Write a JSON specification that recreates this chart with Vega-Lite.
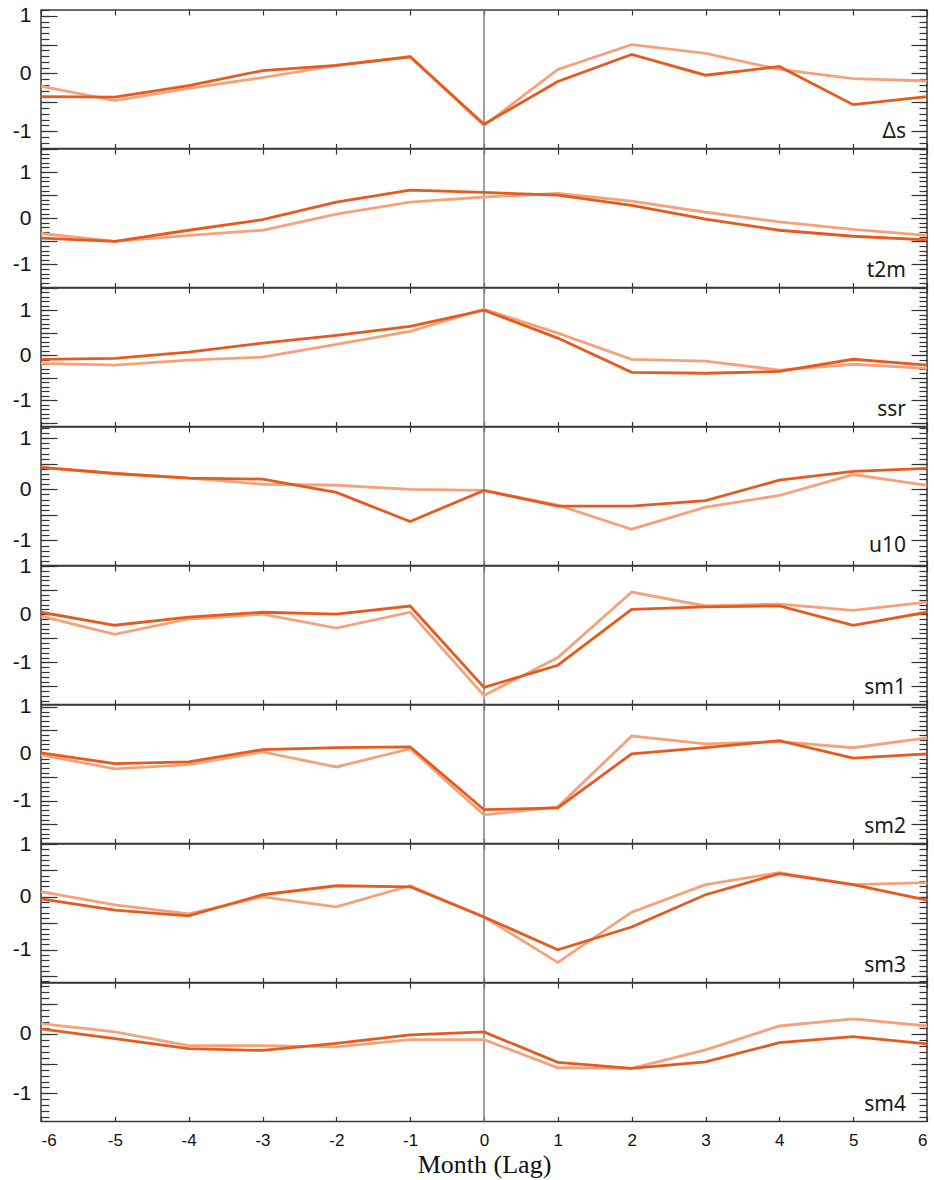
{
"$schema": "https://vega.github.io/schema/vega-lite/v6.json",
"padding": {"left": 11, "top": 4, "right": 5, "bottom": 5},
"bounds": "flush",
"spacing": 0,
"background": "white",
"config": {
  "view": {"stroke": "#3a3a3a", "strokeWidth": 1.5},
  "axis": {"grid": false, "domain": false, "tickColor": "#333333", "tickWidth": 1.2, "labelFont": "Liberation Sans", "labelFontSize": 21, "labelColor": "#111111", "title": null},
  "line": {"strokeWidth": 2.8}
},
"data": {"values": [
{"panel":"Δs","lag":-6,"dark":-0.40,"light":-0.22},{"panel":"Δs","lag":-5,"dark":-0.41,"light":-0.47},{"panel":"Δs","lag":-4,"dark":-0.21,"light":-0.26},{"panel":"Δs","lag":-3,"dark":0.05,"light":-0.07},{"panel":"Δs","lag":-2,"dark":0.14,"light":0.14},{"panel":"Δs","lag":-1,"dark":0.29,"light":0.29},{"panel":"Δs","lag":0,"dark":-0.88,"light":-0.90},{"panel":"Δs","lag":1,"dark":-0.14,"light":0.07},{"panel":"Δs","lag":2,"dark":0.33,"light":0.50},{"panel":"Δs","lag":3,"dark":-0.03,"light":0.35},{"panel":"Δs","lag":4,"dark":0.12,"light":0.07},{"panel":"Δs","lag":5,"dark":-0.54,"light":-0.09},{"panel":"Δs","lag":6,"dark":-0.40,"light":-0.13},
{"panel":"t2m","lag":-6,"dark":-0.43,"light":-0.33},{"panel":"t2m","lag":-5,"dark":-0.50,"light":-0.50},{"panel":"t2m","lag":-4,"dark":-0.26,"light":-0.37},{"panel":"t2m","lag":-3,"dark":-0.03,"light":-0.26},{"panel":"t2m","lag":-2,"dark":0.35,"light":0.09},{"panel":"t2m","lag":-1,"dark":0.61,"light":0.35},{"panel":"t2m","lag":0,"dark":0.56,"light":0.46},{"panel":"t2m","lag":1,"dark":0.50,"light":0.54},{"panel":"t2m","lag":2,"dark":0.28,"light":0.37},{"panel":"t2m","lag":3,"dark":-0.02,"light":0.13},{"panel":"t2m","lag":4,"dark":-0.26,"light":-0.08},{"panel":"t2m","lag":5,"dark":-0.39,"light":-0.24},{"panel":"t2m","lag":6,"dark":-0.47,"light":-0.37},
{"panel":"ssr","lag":-6,"dark":-0.09,"light":-0.18},{"panel":"ssr","lag":-5,"dark":-0.07,"light":-0.22},{"panel":"ssr","lag":-4,"dark":0.07,"light":-0.11},{"panel":"ssr","lag":-3,"dark":0.27,"light":-0.04},{"panel":"ssr","lag":-2,"dark":0.44,"light":0.24},{"panel":"ssr","lag":-1,"dark":0.64,"light":0.53},{"panel":"ssr","lag":0,"dark":1.00,"light":1.02},{"panel":"ssr","lag":1,"dark":0.38,"light":0.49},{"panel":"ssr","lag":2,"dark":-0.38,"light":-0.09},{"panel":"ssr","lag":3,"dark":-0.40,"light":-0.13},{"panel":"ssr","lag":4,"dark":-0.36,"light":-0.33},{"panel":"ssr","lag":5,"dark":-0.09,"light":-0.20},{"panel":"ssr","lag":6,"dark":-0.22,"light":-0.29},
{"panel":"u10","lag":-6,"dark":0.43,"light":0.43},{"panel":"u10","lag":-5,"dark":0.31,"light":0.31},{"panel":"u10","lag":-4,"dark":0.22,"light":0.22},{"panel":"u10","lag":-3,"dark":0.20,"light":0.10},{"panel":"u10","lag":-2,"dark":-0.06,"light":0.08},{"panel":"u10","lag":-1,"dark":-0.63,"light":0.00},{"panel":"u10","lag":0,"dark":-0.02,"light":-0.02},{"panel":"u10","lag":1,"dark":-0.33,"light":-0.31},{"panel":"u10","lag":2,"dark":-0.33,"light":-0.78},{"panel":"u10","lag":3,"dark":-0.22,"light":-0.35},{"panel":"u10","lag":4,"dark":0.18,"light":-0.12},{"panel":"u10","lag":5,"dark":0.35,"light":0.29},{"panel":"u10","lag":6,"dark":0.41,"light":0.08},
{"panel":"sm1","lag":-6,"dark":0.04,"light":-0.04},{"panel":"sm1","lag":-5,"dark":-0.23,"light":-0.42},{"panel":"sm1","lag":-4,"dark":-0.06,"light":-0.10},{"panel":"sm1","lag":-3,"dark":0.04,"light":0.00},{"panel":"sm1","lag":-2,"dark":0.00,"light":-0.29},{"panel":"sm1","lag":-1,"dark":0.17,"light":0.04},{"panel":"sm1","lag":0,"dark":-1.52,"light":-1.69},{"panel":"sm1","lag":1,"dark":-1.06,"light":-0.90},{"panel":"sm1","lag":2,"dark":0.10,"light":0.46},{"panel":"sm1","lag":3,"dark":0.15,"light":0.17},{"panel":"sm1","lag":4,"dark":0.17,"light":0.21},{"panel":"sm1","lag":5,"dark":-0.23,"light":0.08},{"panel":"sm1","lag":6,"dark":0.04,"light":0.25},
{"panel":"sm2","lag":-6,"dark":0.02,"light":-0.02},{"panel":"sm2","lag":-5,"dark":-0.21,"light":-0.32},{"panel":"sm2","lag":-4,"dark":-0.17,"light":-0.23},{"panel":"sm2","lag":-3,"dark":0.09,"light":0.04},{"panel":"sm2","lag":-2,"dark":0.13,"light":-0.28},{"panel":"sm2","lag":-1,"dark":0.15,"light":0.11},{"panel":"sm2","lag":0,"dark":-1.19,"light":-1.30},{"panel":"sm2","lag":1,"dark":-1.15,"light":-1.13},{"panel":"sm2","lag":2,"dark":0.00,"light":0.38},{"panel":"sm2","lag":3,"dark":0.13,"light":0.21},{"panel":"sm2","lag":4,"dark":0.28,"light":0.26},{"panel":"sm2","lag":5,"dark":-0.09,"light":0.13},{"panel":"sm2","lag":6,"dark":0.00,"light":0.34},
{"panel":"sm3","lag":-6,"dark":-0.04,"light":0.10},{"panel":"sm3","lag":-5,"dark":-0.25,"light":-0.15},{"panel":"sm3","lag":-4,"dark":-0.36,"light":-0.32},{"panel":"sm3","lag":-3,"dark":0.04,"light":0.00},{"panel":"sm3","lag":-2,"dark":0.21,"light":-0.19},{"panel":"sm3","lag":-1,"dark":0.19,"light":0.21},{"panel":"sm3","lag":0,"dark":-0.38,"light":-0.38},{"panel":"sm3","lag":1,"dark":-1.00,"light":-1.24},{"panel":"sm3","lag":2,"dark":-0.57,"light":-0.29},{"panel":"sm3","lag":3,"dark":0.04,"light":0.23},{"panel":"sm3","lag":4,"dark":0.44,"light":0.46},{"panel":"sm3","lag":5,"dark":0.23,"light":0.23},{"panel":"sm3","lag":6,"dark":-0.06,"light":0.27},
{"panel":"sm4","lag":-6,"dark":0.08,"light":0.17},{"panel":"sm4","lag":-5,"dark":-0.08,"light":0.03},{"panel":"sm4","lag":-4,"dark":-0.25,"light":-0.20},{"panel":"sm4","lag":-3,"dark":-0.28,"light":-0.20},{"panel":"sm4","lag":-2,"dark":-0.16,"light":-0.22},{"panel":"sm4","lag":-1,"dark":-0.02,"light":-0.10},{"panel":"sm4","lag":0,"dark":0.03,"light":-0.10},{"panel":"sm4","lag":1,"dark":-0.48,"light":-0.57},{"panel":"sm4","lag":2,"dark":-0.58,"light":-0.58},{"panel":"sm4","lag":3,"dark":-0.47,"light":-0.27},{"panel":"sm4","lag":4,"dark":-0.15,"light":0.13},{"panel":"sm4","lag":5,"dark":-0.05,"light":0.25},{"panel":"sm4","lag":6,"dark":-0.17,"light":0.13}
]},
"vconcat": [
{"width": 886, "height": 138.5, "transform": [{"filter": "datum.panel === 'Δs'"}],
 "resolve": {"axis": {"x": "independent", "y": "independent"}},
 "layer": [
  {"transform": [{"filter": "datum.lag === 0"}], "mark": {"type": "rule", "color": "#808080", "strokeWidth": 1.5},
   "encoding": {"x": {"field": "lag", "type": "quantitative", "scale": {"domain": [-6, 6], "nice": false}, "axis": null},
    "y": {"datum": -1.3, "type": "quantitative", "scale": {"domain": [-1.3, 1.1], "nice": false, "zero": false}, "axis": {"orient": "right", "values": [-1.3,-1.2,-1.1,-1,-0.9,-0.8,-0.7,-0.6,-0.5,-0.4,-0.3,-0.2,-0.1,0,0.1,0.2,0.3,0.4,0.5,0.6,0.7,0.8,0.9,1,1.1], "tickSize": -8, "labels": false}},
    "y2": {"datum": 1.1}}},
  {"mark": {"type": "line", "color": "#f4a27a"},
   "encoding": {"x": {"field": "lag", "type": "quantitative", "scale": {"domain": [-6, 6], "nice": false}, "axis": {"orient": "bottom", "values": [-6,-5,-4,-3,-2,-1,0,1,2,3,4,5,6], "tickSize": -5, "labels": false}},
    "y": {"field": "light", "type": "quantitative", "scale": {"domain": [-1.3, 1.1], "nice": false, "zero": false}, "axis": {"orient": "left", "values": [-1.3,-1.2,-1.1,-1,-0.9,-0.8,-0.7,-0.6,-0.5,-0.4,-0.3,-0.2,-0.1,0,0.1,0.2,0.3,0.4,0.5,0.6,0.7,0.8,0.9,1,1.1], "tickSize": -8, "labels": false}}}},
  {"mark": {"type": "line", "color": "#e65a1e"},
   "encoding": {"x": {"field": "lag", "type": "quantitative", "scale": {"domain": [-6, 6], "nice": false}, "axis": {"orient": "top", "values": [-6,-5,-4,-3,-2,-1,0,1,2,3,4,5,6], "tickSize": -5, "labels": false}},
    "y": {"field": "dark", "type": "quantitative", "scale": {"domain": [-1.3, 1.1], "nice": false, "zero": false}, "axis": {"orient": "left", "values": [-1,-0.5,0,0.5,1], "tickSize": -16, "labelPadding": 26, "labelExpr": "datum.value % 1 === 0 ? '' + datum.value : ''"}}}},
  {"transform": [{"filter": "datum.lag === 6"}], "mark": {"type": "text", "align": "right", "baseline": "alphabetic", "dx": -21, "dy": -11, "font": "Noto Sans", "fontSize": 21, "color": "#1a1a1a"},
   "encoding": {"text": {"field": "panel"}, "x": {"field": "lag", "type": "quantitative", "scale": {"domain": [-6, 6], "nice": false}, "axis": null},
    "y": {"datum": -1.3, "type": "quantitative", "scale": {"domain": [-1.3, 1.1], "nice": false, "zero": false}, "axis": {"orient": "right", "values": [-1,-0.5,0,0.5,1], "tickSize": -16, "labels": false}}}}
 ]},
{"width": 886, "height": 138.5, "transform": [{"filter": "datum.panel === 't2m'"}],
 "resolve": {"axis": {"x": "independent", "y": "independent"}},
 "layer": [
  {"transform": [{"filter": "datum.lag === 0"}], "mark": {"type": "rule", "color": "#808080", "strokeWidth": 1.5},
   "encoding": {"x": {"field": "lag", "type": "quantitative", "scale": {"domain": [-6, 6], "nice": false}, "axis": null},
    "y": {"datum": -1.5, "type": "quantitative", "scale": {"domain": [-1.5, 1.5], "nice": false, "zero": false}, "axis": {"orient": "right", "values": [-1.5,-1.4,-1.3,-1.2,-1.1,-1,-0.9,-0.8,-0.7,-0.6,-0.5,-0.4,-0.3,-0.2,-0.1,0,0.1,0.2,0.3,0.4,0.5,0.6,0.7,0.8,0.9,1,1.1,1.2,1.3,1.4,1.5], "tickSize": -8, "labels": false}},
    "y2": {"datum": 1.5}}},
  {"mark": {"type": "line", "color": "#f4a27a"},
   "encoding": {"x": {"field": "lag", "type": "quantitative", "scale": {"domain": [-6, 6], "nice": false}, "axis": {"orient": "bottom", "values": [-6,-5,-4,-3,-2,-1,0,1,2,3,4,5,6], "tickSize": -5, "labels": false}},
    "y": {"field": "light", "type": "quantitative", "scale": {"domain": [-1.5, 1.5], "nice": false, "zero": false}, "axis": {"orient": "left", "values": [-1.5,-1.4,-1.3,-1.2,-1.1,-1,-0.9,-0.8,-0.7,-0.6,-0.5,-0.4,-0.3,-0.2,-0.1,0,0.1,0.2,0.3,0.4,0.5,0.6,0.7,0.8,0.9,1,1.1,1.2,1.3,1.4,1.5], "tickSize": -8, "labels": false}}}},
  {"mark": {"type": "line", "color": "#e65a1e"},
   "encoding": {"x": {"field": "lag", "type": "quantitative", "scale": {"domain": [-6, 6], "nice": false}, "axis": {"orient": "top", "values": [-6,-5,-4,-3,-2,-1,0,1,2,3,4,5,6], "tickSize": -5, "labels": false}},
    "y": {"field": "dark", "type": "quantitative", "scale": {"domain": [-1.5, 1.5], "nice": false, "zero": false}, "axis": {"orient": "left", "values": [-1.5,-1,-0.5,0,0.5,1,1.5], "tickSize": -16, "labelPadding": 26, "labelExpr": "datum.value % 1 === 0 ? '' + datum.value : ''"}}}},
  {"transform": [{"filter": "datum.lag === 6"}], "mark": {"type": "text", "align": "right", "baseline": "alphabetic", "dx": -21, "dy": -11, "font": "Noto Sans", "fontSize": 21, "color": "#1a1a1a"},
   "encoding": {"text": {"field": "panel"}, "x": {"field": "lag", "type": "quantitative", "scale": {"domain": [-6, 6], "nice": false}, "axis": null},
    "y": {"datum": -1.5, "type": "quantitative", "scale": {"domain": [-1.5, 1.5], "nice": false, "zero": false}, "axis": {"orient": "right", "values": [-1.5,-1,-0.5,0,0.5,1,1.5], "tickSize": -16, "labels": false}}}}
 ]},
{"width": 886, "height": 138.5, "transform": [{"filter": "datum.panel === 'ssr'"}],
 "resolve": {"axis": {"x": "independent", "y": "independent"}},
 "layer": [
  {"transform": [{"filter": "datum.lag === 0"}], "mark": {"type": "rule", "color": "#808080", "strokeWidth": 1.5},
   "encoding": {"x": {"field": "lag", "type": "quantitative", "scale": {"domain": [-6, 6], "nice": false}, "axis": null},
    "y": {"datum": -1.58, "type": "quantitative", "scale": {"domain": [-1.58, 1.49], "nice": false, "zero": false}, "axis": {"orient": "right", "values": [-1.5,-1.4,-1.3,-1.2,-1.1,-1,-0.9,-0.8,-0.7,-0.6,-0.5,-0.4,-0.3,-0.2,-0.1,0,0.1,0.2,0.3,0.4,0.5,0.6,0.7,0.8,0.9,1,1.1,1.2,1.3,1.4], "tickSize": -8, "labels": false}},
    "y2": {"datum": 1.49}}},
  {"mark": {"type": "line", "color": "#f4a27a"},
   "encoding": {"x": {"field": "lag", "type": "quantitative", "scale": {"domain": [-6, 6], "nice": false}, "axis": {"orient": "bottom", "values": [-6,-5,-4,-3,-2,-1,0,1,2,3,4,5,6], "tickSize": -5, "labels": false}},
    "y": {"field": "light", "type": "quantitative", "scale": {"domain": [-1.58, 1.49], "nice": false, "zero": false}, "axis": {"orient": "left", "values": [-1.5,-1.4,-1.3,-1.2,-1.1,-1,-0.9,-0.8,-0.7,-0.6,-0.5,-0.4,-0.3,-0.2,-0.1,0,0.1,0.2,0.3,0.4,0.5,0.6,0.7,0.8,0.9,1,1.1,1.2,1.3,1.4], "tickSize": -8, "labels": false}}}},
  {"mark": {"type": "line", "color": "#e65a1e"},
   "encoding": {"x": {"field": "lag", "type": "quantitative", "scale": {"domain": [-6, 6], "nice": false}, "axis": {"orient": "top", "values": [-6,-5,-4,-3,-2,-1,0,1,2,3,4,5,6], "tickSize": -5, "labels": false}},
    "y": {"field": "dark", "type": "quantitative", "scale": {"domain": [-1.58, 1.49], "nice": false, "zero": false}, "axis": {"orient": "left", "values": [-1.5,-1,-0.5,0,0.5,1], "tickSize": -16, "labelPadding": 26, "labelExpr": "datum.value % 1 === 0 ? '' + datum.value : ''"}}}},
  {"transform": [{"filter": "datum.lag === 6"}], "mark": {"type": "text", "align": "right", "baseline": "alphabetic", "dx": -21, "dy": -11, "font": "Noto Sans", "fontSize": 21, "color": "#1a1a1a"},
   "encoding": {"text": {"field": "panel"}, "x": {"field": "lag", "type": "quantitative", "scale": {"domain": [-6, 6], "nice": false}, "axis": null},
    "y": {"datum": -1.58, "type": "quantitative", "scale": {"domain": [-1.58, 1.49], "nice": false, "zero": false}, "axis": {"orient": "right", "values": [-1.5,-1,-0.5,0,0.5,1], "tickSize": -16, "labels": false}}}}
 ]},
{"width": 886, "height": 138.5, "transform": [{"filter": "datum.panel === 'u10'"}],
 "resolve": {"axis": {"x": "independent", "y": "independent"}},
 "layer": [
  {"transform": [{"filter": "datum.lag === 0"}], "mark": {"type": "rule", "color": "#808080", "strokeWidth": 1.5},
   "encoding": {"x": {"field": "lag", "type": "quantitative", "scale": {"domain": [-6, 6], "nice": false}, "axis": null},
    "y": {"datum": -1.49, "type": "quantitative", "scale": {"domain": [-1.49, 1.22], "nice": false, "zero": false}, "axis": {"orient": "right", "values": [-1.4,-1.3,-1.2,-1.1,-1,-0.9,-0.8,-0.7,-0.6,-0.5,-0.4,-0.3,-0.2,-0.1,0,0.1,0.2,0.3,0.4,0.5,0.6,0.7,0.8,0.9,1,1.1,1.2], "tickSize": -8, "labels": false}},
    "y2": {"datum": 1.22}}},
  {"mark": {"type": "line", "color": "#f4a27a"},
   "encoding": {"x": {"field": "lag", "type": "quantitative", "scale": {"domain": [-6, 6], "nice": false}, "axis": {"orient": "bottom", "values": [-6,-5,-4,-3,-2,-1,0,1,2,3,4,5,6], "tickSize": -5, "labels": false}},
    "y": {"field": "light", "type": "quantitative", "scale": {"domain": [-1.49, 1.22], "nice": false, "zero": false}, "axis": {"orient": "left", "values": [-1.4,-1.3,-1.2,-1.1,-1,-0.9,-0.8,-0.7,-0.6,-0.5,-0.4,-0.3,-0.2,-0.1,0,0.1,0.2,0.3,0.4,0.5,0.6,0.7,0.8,0.9,1,1.1,1.2], "tickSize": -8, "labels": false}}}},
  {"mark": {"type": "line", "color": "#e65a1e"},
   "encoding": {"x": {"field": "lag", "type": "quantitative", "scale": {"domain": [-6, 6], "nice": false}, "axis": {"orient": "top", "values": [-6,-5,-4,-3,-2,-1,0,1,2,3,4,5,6], "tickSize": -5, "labels": false}},
    "y": {"field": "dark", "type": "quantitative", "scale": {"domain": [-1.49, 1.22], "nice": false, "zero": false}, "axis": {"orient": "left", "values": [-1,-0.5,0,0.5,1], "tickSize": -16, "labelPadding": 26, "labelExpr": "datum.value % 1 === 0 ? '' + datum.value : ''"}}}},
  {"transform": [{"filter": "datum.lag === 6"}], "mark": {"type": "text", "align": "right", "baseline": "alphabetic", "dx": -21, "dy": -14, "font": "Noto Sans", "fontSize": 21, "color": "#1a1a1a"},
   "encoding": {"text": {"field": "panel"}, "x": {"field": "lag", "type": "quantitative", "scale": {"domain": [-6, 6], "nice": false}, "axis": null},
    "y": {"datum": -1.49, "type": "quantitative", "scale": {"domain": [-1.49, 1.22], "nice": false, "zero": false}, "axis": {"orient": "right", "values": [-1,-0.5,0,0.5,1], "tickSize": -16, "labels": false}}}}
 ]},
{"width": 886, "height": 138.5, "transform": [{"filter": "datum.panel === 'sm1'"}],
 "resolve": {"axis": {"x": "independent", "y": "independent"}},
 "layer": [
  {"transform": [{"filter": "datum.lag === 0"}], "mark": {"type": "rule", "color": "#808080", "strokeWidth": 1.5},
   "encoding": {"x": {"field": "lag", "type": "quantitative", "scale": {"domain": [-6, 6], "nice": false}, "axis": null},
    "y": {"datum": -1.875, "type": "quantitative", "scale": {"domain": [-1.875, 1.0], "nice": false, "zero": false}, "axis": {"orient": "right", "values": [-1.8,-1.7,-1.6,-1.5,-1.4,-1.3,-1.2,-1.1,-1,-0.9,-0.8,-0.7,-0.6,-0.5,-0.4,-0.3,-0.2,-0.1,0,0.1,0.2,0.3,0.4,0.5,0.6,0.7,0.8,0.9,1], "tickSize": -8, "labels": false}},
    "y2": {"datum": 1.0}}},
  {"mark": {"type": "line", "color": "#f4a27a"},
   "encoding": {"x": {"field": "lag", "type": "quantitative", "scale": {"domain": [-6, 6], "nice": false}, "axis": {"orient": "bottom", "values": [-6,-5,-4,-3,-2,-1,0,1,2,3,4,5,6], "tickSize": -5, "labels": false}},
    "y": {"field": "light", "type": "quantitative", "scale": {"domain": [-1.875, 1.0], "nice": false, "zero": false}, "axis": {"orient": "left", "values": [-1.8,-1.7,-1.6,-1.5,-1.4,-1.3,-1.2,-1.1,-1,-0.9,-0.8,-0.7,-0.6,-0.5,-0.4,-0.3,-0.2,-0.1,0,0.1,0.2,0.3,0.4,0.5,0.6,0.7,0.8,0.9,1], "tickSize": -8, "labels": false}}}},
  {"mark": {"type": "line", "color": "#e65a1e"},
   "encoding": {"x": {"field": "lag", "type": "quantitative", "scale": {"domain": [-6, 6], "nice": false}, "axis": {"orient": "top", "values": [-6,-5,-4,-3,-2,-1,0,1,2,3,4,5,6], "tickSize": -5, "labels": false}},
    "y": {"field": "dark", "type": "quantitative", "scale": {"domain": [-1.875, 1.0], "nice": false, "zero": false}, "axis": {"orient": "left", "values": [-1.5,-1,-0.5,0,0.5,1], "tickSize": -16, "labelPadding": 26, "labelExpr": "datum.value % 1 === 0 ? '' + datum.value : ''"}}}},
  {"transform": [{"filter": "datum.lag === 6"}], "mark": {"type": "text", "align": "right", "baseline": "alphabetic", "dx": -21, "dy": -11, "font": "Noto Sans", "fontSize": 21, "color": "#1a1a1a"},
   "encoding": {"text": {"field": "panel"}, "x": {"field": "lag", "type": "quantitative", "scale": {"domain": [-6, 6], "nice": false}, "axis": null},
    "y": {"datum": -1.875, "type": "quantitative", "scale": {"domain": [-1.875, 1.0], "nice": false, "zero": false}, "axis": {"orient": "right", "values": [-1.5,-1,-0.5,0,0.5,1], "tickSize": -16, "labels": false}}}}
 ]},
{"width": 886, "height": 138.5, "transform": [{"filter": "datum.panel === 'sm2'"}],
 "resolve": {"axis": {"x": "independent", "y": "independent"}},
 "layer": [
  {"transform": [{"filter": "datum.lag === 0"}], "mark": {"type": "rule", "color": "#808080", "strokeWidth": 1.5},
   "encoding": {"x": {"field": "lag", "type": "quantitative", "scale": {"domain": [-6, 6], "nice": false}, "axis": null},
    "y": {"datum": -1.91, "type": "quantitative", "scale": {"domain": [-1.91, 1.04], "nice": false, "zero": false}, "axis": {"orient": "right", "values": [-1.9,-1.8,-1.7,-1.6,-1.5,-1.4,-1.3,-1.2,-1.1,-1,-0.9,-0.8,-0.7,-0.6,-0.5,-0.4,-0.3,-0.2,-0.1,0,0.1,0.2,0.3,0.4,0.5,0.6,0.7,0.8,0.9,1], "tickSize": -8, "labels": false}},
    "y2": {"datum": 1.04}}},
  {"mark": {"type": "line", "color": "#f4a27a"},
   "encoding": {"x": {"field": "lag", "type": "quantitative", "scale": {"domain": [-6, 6], "nice": false}, "axis": {"orient": "bottom", "values": [-6,-5,-4,-3,-2,-1,0,1,2,3,4,5,6], "tickSize": -5, "labels": false}},
    "y": {"field": "light", "type": "quantitative", "scale": {"domain": [-1.91, 1.04], "nice": false, "zero": false}, "axis": {"orient": "left", "values": [-1.9,-1.8,-1.7,-1.6,-1.5,-1.4,-1.3,-1.2,-1.1,-1,-0.9,-0.8,-0.7,-0.6,-0.5,-0.4,-0.3,-0.2,-0.1,0,0.1,0.2,0.3,0.4,0.5,0.6,0.7,0.8,0.9,1], "tickSize": -8, "labels": false}}}},
  {"mark": {"type": "line", "color": "#e65a1e"},
   "encoding": {"x": {"field": "lag", "type": "quantitative", "scale": {"domain": [-6, 6], "nice": false}, "axis": {"orient": "top", "values": [-6,-5,-4,-3,-2,-1,0,1,2,3,4,5,6], "tickSize": -5, "labels": false}},
    "y": {"field": "dark", "type": "quantitative", "scale": {"domain": [-1.91, 1.04], "nice": false, "zero": false}, "axis": {"orient": "left", "values": [-1.5,-1,-0.5,0,0.5,1], "tickSize": -16, "labelPadding": 26, "labelExpr": "datum.value % 1 === 0 ? '' + datum.value : ''"}}}},
  {"transform": [{"filter": "datum.lag === 6"}], "mark": {"type": "text", "align": "right", "baseline": "alphabetic", "dx": -21, "dy": -11, "font": "Noto Sans", "fontSize": 21, "color": "#1a1a1a"},
   "encoding": {"text": {"field": "panel"}, "x": {"field": "lag", "type": "quantitative", "scale": {"domain": [-6, 6], "nice": false}, "axis": null},
    "y": {"datum": -1.91, "type": "quantitative", "scale": {"domain": [-1.91, 1.04], "nice": false, "zero": false}, "axis": {"orient": "right", "values": [-1.5,-1,-0.5,0,0.5,1], "tickSize": -16, "labels": false}}}}
 ]},
{"width": 886, "height": 138.5, "transform": [{"filter": "datum.panel === 'sm3'"}],
 "resolve": {"axis": {"x": "independent", "y": "independent"}},
 "layer": [
  {"transform": [{"filter": "datum.lag === 0"}], "mark": {"type": "rule", "color": "#808080", "strokeWidth": 1.5},
   "encoding": {"x": {"field": "lag", "type": "quantitative", "scale": {"domain": [-6, 6], "nice": false}, "axis": null},
    "y": {"datum": -1.62, "type": "quantitative", "scale": {"domain": [-1.62, 1.0], "nice": false, "zero": false}, "axis": {"orient": "right", "values": [-1.6,-1.5,-1.4,-1.3,-1.2,-1.1,-1,-0.9,-0.8,-0.7,-0.6,-0.5,-0.4,-0.3,-0.2,-0.1,0,0.1,0.2,0.3,0.4,0.5,0.6,0.7,0.8,0.9,1], "tickSize": -8, "labels": false}},
    "y2": {"datum": 1.0}}},
  {"mark": {"type": "line", "color": "#f4a27a"},
   "encoding": {"x": {"field": "lag", "type": "quantitative", "scale": {"domain": [-6, 6], "nice": false}, "axis": {"orient": "bottom", "values": [-6,-5,-4,-3,-2,-1,0,1,2,3,4,5,6], "tickSize": -5, "labels": false}},
    "y": {"field": "light", "type": "quantitative", "scale": {"domain": [-1.62, 1.0], "nice": false, "zero": false}, "axis": {"orient": "left", "values": [-1.6,-1.5,-1.4,-1.3,-1.2,-1.1,-1,-0.9,-0.8,-0.7,-0.6,-0.5,-0.4,-0.3,-0.2,-0.1,0,0.1,0.2,0.3,0.4,0.5,0.6,0.7,0.8,0.9,1], "tickSize": -8, "labels": false}}}},
  {"mark": {"type": "line", "color": "#e65a1e"},
   "encoding": {"x": {"field": "lag", "type": "quantitative", "scale": {"domain": [-6, 6], "nice": false}, "axis": {"orient": "top", "values": [-6,-5,-4,-3,-2,-1,0,1,2,3,4,5,6], "tickSize": -5, "labels": false}},
    "y": {"field": "dark", "type": "quantitative", "scale": {"domain": [-1.62, 1.0], "nice": false, "zero": false}, "axis": {"orient": "left", "values": [-1.5,-1,-0.5,0,0.5,1], "tickSize": -16, "labelPadding": 26, "labelExpr": "datum.value % 1 === 0 ? '' + datum.value : ''"}}}},
  {"transform": [{"filter": "datum.lag === 6"}], "mark": {"type": "text", "align": "right", "baseline": "alphabetic", "dx": -21, "dy": -11, "font": "Noto Sans", "fontSize": 21, "color": "#1a1a1a"},
   "encoding": {"text": {"field": "panel"}, "x": {"field": "lag", "type": "quantitative", "scale": {"domain": [-6, 6], "nice": false}, "axis": null},
    "y": {"datum": -1.62, "type": "quantitative", "scale": {"domain": [-1.62, 1.0], "nice": false, "zero": false}, "axis": {"orient": "right", "values": [-1.5,-1,-0.5,0,0.5,1], "tickSize": -16, "labels": false}}}}
 ]},
{"width": 886, "height": 138.5, "transform": [{"filter": "datum.panel === 'sm4'"}],
 "resolve": {"axis": {"x": "independent", "y": "independent"}},
 "layer": [
  {"transform": [{"filter": "datum.lag === 0"}], "mark": {"type": "rule", "color": "#808080", "strokeWidth": 1.5},
   "encoding": {"x": {"field": "lag", "type": "quantitative", "scale": {"domain": [-6, 6], "nice": false}, "axis": null},
    "y": {"datum": -1.47, "type": "quantitative", "scale": {"domain": [-1.47, 0.85], "nice": false, "zero": false}, "axis": {"orient": "right", "values": [-1.4,-1.3,-1.2,-1.1,-1,-0.9,-0.8,-0.7,-0.6,-0.5,-0.4,-0.3,-0.2,-0.1,0,0.1,0.2,0.3,0.4,0.5,0.6,0.7,0.8], "tickSize": -8, "labels": false}},
    "y2": {"datum": 0.85}}},
  {"mark": {"type": "line", "color": "#f4a27a"},
   "encoding": {"x": {"field": "lag", "type": "quantitative", "scale": {"domain": [-6, 6], "nice": false}, "axis": {"orient": "bottom", "values": [-6,-5,-4,-3,-2,-1,0,1,2,3,4,5,6], "tickSize": -5, "labelPadding": 16, "labelFontSize": 17, "labelExpr": "'' + datum.value", "title": "Month (Lag)", "titleFont": "Liberation Serif", "titleFontSize": 26, "titleFontWeight": "normal", "titleColor": "#111111", "titlePadding": 3}},
    "y": {"field": "light", "type": "quantitative", "scale": {"domain": [-1.47, 0.85], "nice": false, "zero": false}, "axis": {"orient": "left", "values": [-1.4,-1.3,-1.2,-1.1,-1,-0.9,-0.8,-0.7,-0.6,-0.5,-0.4,-0.3,-0.2,-0.1,0,0.1,0.2,0.3,0.4,0.5,0.6,0.7,0.8], "tickSize": -8, "labels": false}}}},
  {"mark": {"type": "line", "color": "#e65a1e"},
   "encoding": {"x": {"field": "lag", "type": "quantitative", "scale": {"domain": [-6, 6], "nice": false}, "axis": {"orient": "top", "values": [-6,-5,-4,-3,-2,-1,0,1,2,3,4,5,6], "tickSize": -5, "labels": false}},
    "y": {"field": "dark", "type": "quantitative", "scale": {"domain": [-1.47, 0.85], "nice": false, "zero": false}, "axis": {"orient": "left", "values": [-1,-0.5,0,0.5], "tickSize": -16, "labelPadding": 26, "labelExpr": "datum.value % 1 === 0 ? '' + datum.value : ''"}}}},
  {"transform": [{"filter": "datum.lag === 6"}], "mark": {"type": "text", "align": "right", "baseline": "alphabetic", "dx": -21, "dy": -11, "font": "Noto Sans", "fontSize": 21, "color": "#1a1a1a"},
   "encoding": {"text": {"field": "panel"}, "x": {"field": "lag", "type": "quantitative", "scale": {"domain": [-6, 6], "nice": false}, "axis": null},
    "y": {"datum": -1.47, "type": "quantitative", "scale": {"domain": [-1.47, 0.85], "nice": false, "zero": false}, "axis": {"orient": "right", "values": [-1,-0.5,0,0.5], "tickSize": -16, "labels": false}}}}
 ]}
]
}
